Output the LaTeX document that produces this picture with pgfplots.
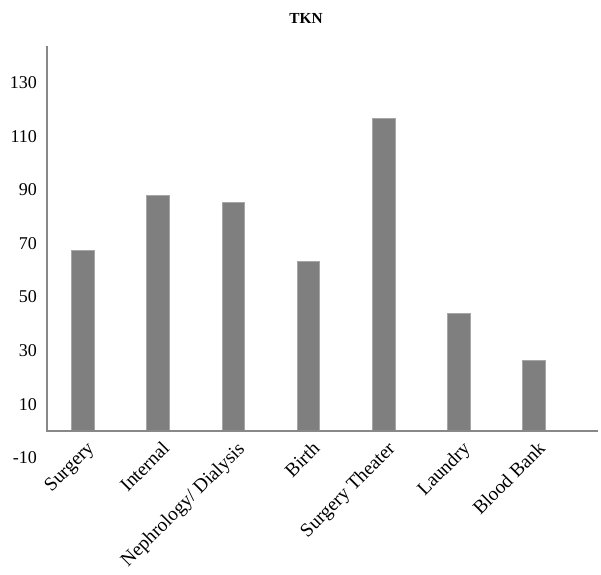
\documentclass[border=0pt]{standalone}
\usepackage{pgfplots}
\pgfplotsset{compat=1.18}
\usepackage{pgfplotstable}
\usepackage{fontspec}
\setmainfont{Liberation Serif}
\definecolor{bargray}{HTML}{7F7F7F}
\definecolor{baredge}{HTML}{A6A6A6}
\definecolor{axisgray}{HTML}{888888}
\pgfplotstableread{
x val
0 67.4
1 87.8
2 85.3
3 63.3
4 116.5
5 43.8
6 26.4
}\tkn
\begin{document}
\begin{tikzpicture}
\begin{axis}[
  name=ax,
  scale only axis,
  width=413.25pt, height=308.85pt,
  xmin=-0.479, xmax=6.85,
  ymin=-10, ymax=143.66,
  axis line style={draw=none},
  ytick={-10,10,30,50,70,90,110,130},
  xtick=data,
  xticklabels={Surgery,Internal,Nephrology/ Dialysis,Birth,Surgery Theater,Laundry,Blood Bank},
  major tick length=0pt,
  yticklabel style={font=\fontsize{13.5pt}{15pt}\selectfont, xshift=-4pt},
  /pgf/number format/assume math mode=true,
  xticklabel style={font=\fontsize{14.5pt}{16pt}\selectfont, xshift=2pt, yshift=18pt, rotate=45, anchor=north east},
  clip=false,
]
\addplot[ybar, bar width=17pt, fill=bargray, draw=baredge, line width=0.6pt] table[x=x,y=val] {\tkn};
\draw[axisgray, line width=1.5pt] (rel axis cs:0,1) -- (axis cs:-0.479,0) -- (axis cs:6.85,0);
\end{axis}
\node[font=\bfseries\fontsize{11.5pt}{13pt}\selectfont] at ([shift={(194.25pt,329.85pt)}]ax.south west) {TKN};
\pgfresetboundingbox
\path[use as bounding box] ([shift={(-35.25pt,-87.9pt)}]ax.south west) rectangle ++(450.75pt,431.25pt);
\end{tikzpicture}
\end{document}
